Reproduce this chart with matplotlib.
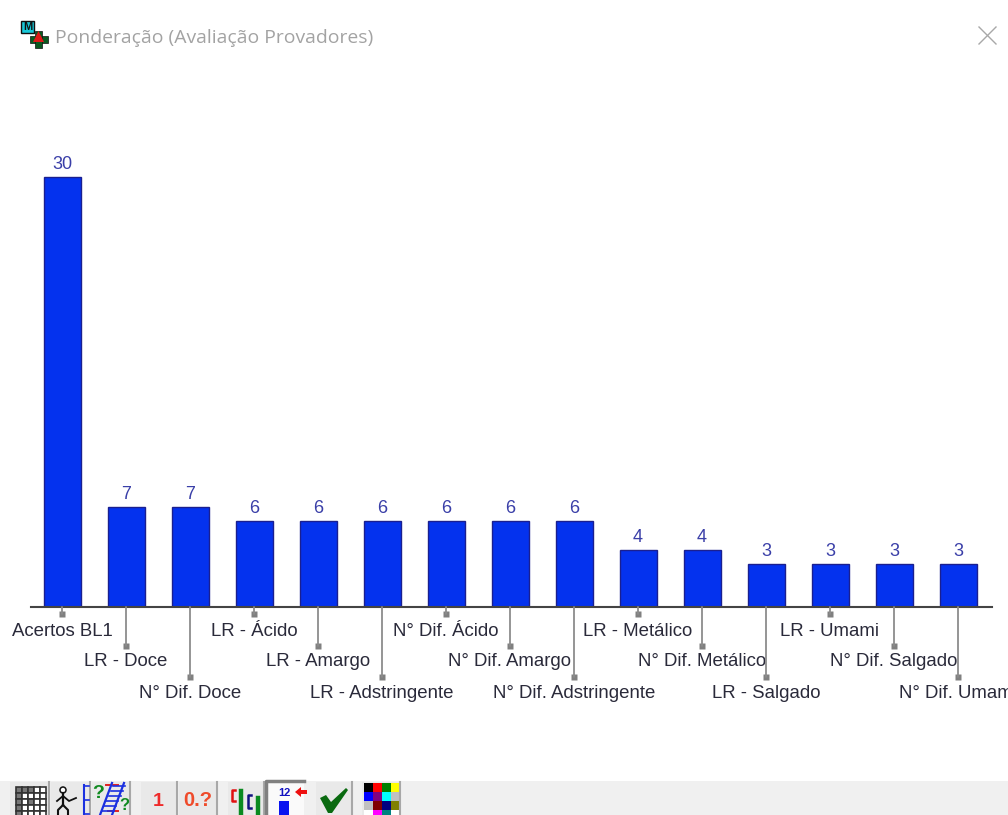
import matplotlib
matplotlib.use("Agg")
import matplotlib.pyplot as plt
from matplotlib.patches import Rectangle, Polygon

categories = ["Acertos BL1", "LR - Doce", "N° Dif. Doce", "LR - Ácido", "LR - Amargo",
              "LR - Adstringente", "N° Dif. Ácido", "N° Dif. Amargo", "N° Dif. Adstringente",
              "LR - Metálico", "N° Dif. Metálico", "LR - Salgado", "LR - Umami",
              "N° Dif. Salgado", "N° Dif. Umami"]
values = [30, 7, 7, 6, 6, 6, 6, 6, 6, 4, 4, 3, 3, 3, 3]
title = "Ponderação (Avaliação Provadores)"

# stem length / label offset (px) for the three staggered label rows
stems = [7, 39, 70]
label_offs = [24, 55, 86]

plt.rcParams['font.family'] = ['Liberation Sans', 'DejaVu Sans']
W, H = 1008, 815
fig = plt.figure(figsize=(W / 100, H / 100), dpi=100, facecolor="white")

# main chart, baseline at y=607 px, 30 at y=177 px
ax = fig.add_axes([31 / W, (H - 607) / H, (992 - 31) / W, 477 / H])
ax.set_xlim((31 - 62) / 64, (992 - 62) / 64)
ax.set_ylim(0, 477 / (430 / 30))
ax.patch.set_visible(False)
for s in ["top", "left", "right"]:
    ax.spines[s].set_visible(False)
ax.spines["bottom"].set_color("#444444")
ax.spines["bottom"].set_linewidth(1.5)
ax.set_xticks([])
ax.set_yticks([])

x = list(range(len(values)))
ax.bar(x, values, width=37 / 64, color="#0432ee", edgecolor="#1a1f90", linewidth=1)

for i, v in enumerate(values):
    ax.annotate(str(v), (i, v), xytext=(0, 4 * 0.72), textcoords="offset points",
                ha="center", va="bottom", fontsize=13, color="#3a3fa8")
    lev = i % 3
    ax.annotate("", (i, 0), xytext=(0, -stems[lev] * 0.72), textcoords="offset points",
                arrowprops=dict(arrowstyle="-", color="#8c8c8c", lw=1.3, shrinkA=0, shrinkB=0),
                annotation_clip=False)
    ax.plot([i], [0], marker="s", ms=3.8, color="#808080", mec="none", clip_on=False,
            transform=ax.get_xaxis_transform() + matplotlib.transforms.ScaledTranslation(0, -stems[lev] / 100, fig.dpi_scale_trans))
    ax.annotate(categories[i], (i, 0), xytext=(0, -label_offs[lev] * 0.72), textcoords="offset points",
                ha="center", va="center", fontsize=13.4, color="#2a2a3a", annotation_clip=False)

# window chrome in pixel coordinates
ui = fig.add_axes([0, 0, 1, 1])
ui.set_xlim(0, W)
ui.set_ylim(H, 0)
ui.axis("off")
ui.patch.set_visible(False)

ui.text(55, 38, title, fontsize=13.95, color="#a3a3a3", va="center", ha="left",
        family=["Open Sans", "DejaVu Sans"])
ui.plot([979, 996], [27, 44], color="#a8a8a8", lw=1)
ui.plot([979, 996], [44, 27], color="#a8a8a8", lw=1)

# app icon
ui.add_patch(Rectangle((21, 21), 13, 12, fc="#18c8d8", ec="#101010", lw=1))
ui.text(27.5, 27.2, "M", fontsize=8, weight="bold", color="#101010", ha="center", va="center")
ui.add_patch(Rectangle((30, 36), 18, 7, fc="#0a5a20", ec="#101010", lw=0.5))
ui.add_patch(Rectangle((35, 31), 7, 17, fc="#0a5a20", ec="#101010", lw=0.5))
ui.add_patch(Polygon([[38.5, 31], [44, 42], [33, 42]], fc="#e01818", ec="none"))

# toolbar
ui.add_patch(Rectangle((0, 781), W, 34, fc="#f0f0f0", ec="none"))
for bx0, bx1 in [(10, 49), (51, 90), (92, 130), (141, 177), (179, 217), (228, 264),
                 (316, 352), (362, 400)]:
    ui.add_patch(Rectangle((bx0, 782), bx1 - bx0, 33, fc="#e9e9e9", ec="none"))
    ui.plot([bx1, bx1], [782, 815], color="#a8a8a8", lw=1.5)

# grid button
for r in range(5):
    for c in range(5):
        dark = (r == 0 or c == 0) and not (r == 0 and c > 2) or (r == 2 and c == 2)
        ui.add_patch(Rectangle((16 + c * 6, 787 + r * 6), 6, 6, fc="#777777" if dark else "white",
                               ec="#333333", lw=1.2))

# stick figure + ruler
ui.add_patch(plt.Circle((63, 790), 3, fc="white", ec="#111111", lw=1.1))
ui.plot([63, 63], [793, 805], color="#111111", lw=1.6)
ui.plot([63, 58, 58], [805, 810, 815], color="#111111", lw=1.5)
ui.plot([63, 68, 68], [805, 810, 815], color="#111111", lw=1.5)
ui.plot([57, 63, 69, 76], [801, 796, 801, 798], color="#111111", lw=1.3)
ui.plot([84, 84], [785, 815], color="#1a30e0", lw=1.5)
ui.plot([84, 89], [786, 786], color="#1a30e0", lw=1.2)
ui.plot([84, 89], [800, 800], color="#1a30e0", lw=1.2)
ui.plot([84, 89], [814, 814], color="#1a30e0", lw=1.2)

# stairs button
ui.plot([106, 118], [785, 785], color="#e02020", lw=1.4)
ui.plot([108, 118], [811, 811], color="#e02020", lw=1.4)
ui.plot([100, 112], [815, 783], color="#1a30e0", lw=1.6)
ui.plot([112, 124], [815, 783], color="#1a30e0", lw=1.6)
for k in range(6):
    ui.plot([102 + k * 2.2, 114 + k * 2.2], [811 - k * 5, 811 - k * 5], color="#1a30e0", lw=1.2)
ui.text(98, 794, "?", fontsize=14, weight="bold", color="#108a20", ha="center", va="center")
ui.text(124, 806, "?", fontsize=12, weight="bold", color="#108a20", ha="center", va="center")

# digit buttons
ui.text(158, 801, "1", fontsize=14, weight="bold", color="#ef2b2b", ha="center", va="center")
ui.text(198, 801, "0.?", fontsize=14.5, weight="bold", color="#ef4b2b", ha="center", va="center")

# bars button
ui.plot([235, 232, 232, 235], [790, 790, 801, 801], color="#e01010", lw=1.8)
ui.plot([241, 241], [791, 815], color="#0a8a20", lw=3.2)
ui.plot([251, 248, 248, 251], [795, 795, 808, 808], color="#101080", lw=1.8)
ui.plot([258, 258], [798, 815], color="#0a8a20", lw=3.2)

# value-label button (pressed)
ui.add_patch(Rectangle((266, 782), 38, 33, fc="#fafafa", ec="none"))
ui.plot([266, 266, 304], [815, 781, 781], color="#808080", lw=2.5)
ui.text(284, 793, "12", fontsize=8, weight="bold", color="#1010c0", ha="center", va="center")
ui.add_patch(Rectangle((279, 801), 10, 14, fc="#0a14f0", ec="none"))
ui.add_patch(Polygon([[295, 792], [301, 787], [301, 790], [307, 790], [307, 794], [301, 794], [301, 797]],
                     fc="#ee1010", ec="none"))

# check mark
ui.add_patch(Polygon([[320, 798], [326, 795], [331, 802], [346, 788], [348, 790], [332, 813], [328, 813]],
                     fc="#0a6a10", ec="none"))

# colour palette
pal = [["#000000", "#ff0000", "#008000", "#ffff00"],
       ["#0000ff", "#800080", "#00ffff", "#c0c0c0"],
       ["#c0c0c0", "#800000", "#000080", "#808000"],
       ["#ffffff", "#ff00ff", "#008080", "#ffffff"]]
for r, row in enumerate(pal):
    for c, col in enumerate(row):
        ui.add_patch(Rectangle((364 + c * 9, 783 + r * 9), 9, 9, fc=col, ec="none"))

fig.savefig("out.png", dpi=100, facecolor="white")
plt.close()
